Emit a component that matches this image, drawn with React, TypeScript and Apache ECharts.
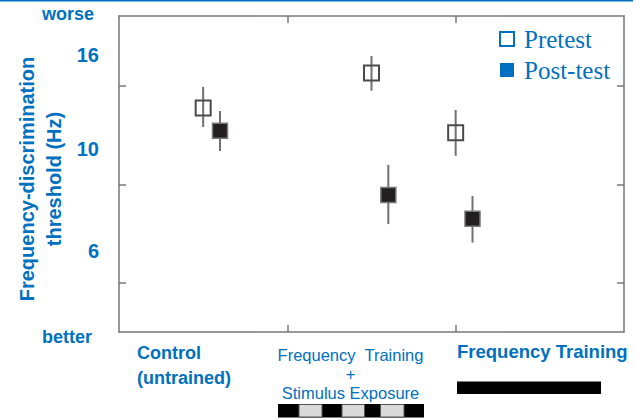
import React, { useEffect, useRef } from "react";
import * as echarts from "echarts";

// ---- data (thresholds in Hz) ----
const groupLabels = ["Control\n(untrained)", "Frequency  Training\n+\nStimulus Exposure", "Frequency Training"];
const preX = [0.5, 1.5, 2.0];
const postX = [0.6, 1.6, 2.1];
const preMean = [12.25, 14.6, 10.83];
const preLow = [11.14, 13.36, 9.65];
const preHigh = [13.61, 15.89, 12.13];
const postMean = [10.93, 7.93, 7.04];
const postLow = [9.88, 6.86, 6.25];
const postHigh = [12.07, 9.22, 7.89];
const yLabelValues = [6, 10, 16];
const yTickValues = [5.11, 8.34, 13.68];
const xTickValues = [1, 2];
const seriesNames = ["Pretest", "Post-test"];
const yTitle = "Frequency-discrimination\nthreshold (Hz)";
const yEnds = ["worse", "better"];

const BLUE = "#0070c0";
const AXIS = "#777777";
const SANS = "'Liberation Sans', Arial, sans-serif";
const SERIF = "'Liberation Serif', 'Times New Roman', serif";

export default function App() {
  const ref = useRef<HTMLDivElement>(null);
  useEffect(() => {
    if (!ref.current) return;
    const chart = echarts.init(ref.current, null, { renderer: "svg" });

    const whisker = (params: any, api: any) => {
      const x = api.value(0);
      const p1 = api.coord([x, api.value(1)]);
      const p2 = api.coord([x, api.value(2)]);
      return {
        type: "line",
        shape: { x1: p1[0], y1: p1[1], x2: p2[0], y2: p2[1] },
        style: { stroke: "#707070", lineWidth: 2 },
      };
    };

    const xAxisBase = {
      type: "value",
      min: 0,
      max: 3,
      axisLine: { show: true, onZero: false, lineStyle: { color: AXIS, width: 1.5 } },
      axisTick: { show: true, inside: true, length: 7, customValues: xTickValues, lineStyle: { color: AXIS, width: 1.5 } },
      axisLabel: { show: false },
      splitLine: { show: false },
    };
    const yAxisBase = {
      type: "log",
      logBase: 10,
      min: 4,
      max: 19.4,
      axisLine: { show: true, onZero: false, lineStyle: { color: AXIS, width: 1.5 } },
      axisTick: { show: true, inside: true, length: 7, customValues: yTickValues, lineStyle: { color: AXIS, width: 1.5 } },
      splitLine: { show: false },
    };

    chart.setOption({
      animation: false,
      grid: { left: 119, right: 11, top: 16, bottom: 88 },
      xAxis: [
        { ...xAxisBase, position: "bottom" },
        { ...xAxisBase, position: "top" },
      ],
      yAxis: [
        {
          ...yAxisBase,
          position: "left",
          axisLabel: {
            show: true,
            customValues: yLabelValues,
            margin: 20,
            color: BLUE,
            fontFamily: SANS,
            fontWeight: "bold",
            fontSize: 20,
            formatter: (v: number) => String(Math.round(v)),
          },
        },
        { ...yAxisBase, position: "right", axisLabel: { show: false } },
      ],
      legend: {
        orient: "vertical",
        left: 499,
        top: 26.5,
        padding: 0,
        itemWidth: 14,
        itemHeight: 14,
        itemGap: 6,
        textStyle: { fontFamily: SERIF, fontSize: 25, color: BLUE, padding: [0, 0, 0, 5] },
        data: [
          { name: seriesNames[0], icon: "rect", itemStyle: { color: "#ffffff", borderColor: BLUE, borderWidth: 2 } },
          { name: seriesNames[1], icon: "rect", itemStyle: { color: BLUE, borderWidth: 0 } },
        ],
      },
      series: [
        {
          type: "custom",
          name: "pre-err",
          renderItem: whisker,
          encode: { x: 0, y: [1, 2] },
          data: preX.map((x, i) => [x, preLow[i], preHigh[i]]),
          z: 1,
        },
        {
          type: "custom",
          name: "post-err",
          renderItem: whisker,
          encode: { x: 0, y: [1, 2] },
          data: postX.map((x, i) => [x, postLow[i], postHigh[i]]),
          z: 1,
        },
        {
          type: "scatter",
          name: seriesNames[0],
          symbol: "rect",
          symbolSize: 15,
          itemStyle: { color: "rgba(255,255,255,0)", borderColor: "#4a4a4a", borderWidth: 2, opacity: 1 },
          data: preX.map((x, i) => [x, preMean[i]]),
          z: 3,
        },
        {
          type: "scatter",
          name: seriesNames[1],
          symbol: "rect",
          symbolSize: 15,
          itemStyle: { color: "#231f20", borderColor: "#777777", borderWidth: 1.5, opacity: 1 },
          data: postX.map((x, i) => [x, postMean[i]]),
          z: 3,
        },
      ],
      graphic: [
        { type: "rect", shape: { x: 0, y: 0, width: 633, height: 1.5 }, style: { fill: BLUE } },
        {
          type: "text",
          x: 40,
          y: 179,
          rotation: Math.PI / 2,
          style: {
            text: yTitle,
            fill: BLUE,
            font: `bold 20px ${SANS}`,
            align: "center",
            verticalAlign: "middle",
            lineHeight: 27,
          },
        },
        {
          type: "text",
          x: 94,
          y: 14,
          style: { text: yEnds[0], fill: BLUE, font: `bold 18px ${SANS}`, align: "right", verticalAlign: "middle" },
        },
        {
          type: "text",
          x: 92,
          y: 337,
          style: { text: yEnds[1], fill: BLUE, font: `bold 18px ${SANS}`, align: "right", verticalAlign: "middle" },
        },
        {
          type: "text",
          x: 137,
          y: 365,
          style: { text: groupLabels[0], fill: BLUE, font: `bold 18px ${SANS}`, align: "left", verticalAlign: "middle", lineHeight: 25 },
        },
        {
          type: "text",
          x: 350.5,
          y: 374,
          style: { text: groupLabels[1], fill: BLUE, font: `16.5px ${SANS}`, align: "center", verticalAlign: "middle", lineHeight: 19 },
        },
        {
          type: "text",
          x: 457,
          y: 351,
          style: { text: groupLabels[2], fill: BLUE, font: `bold 18.5px ${SANS}`, align: "left", verticalAlign: "middle" },
        },
        { type: "rect", shape: { x: 457, y: 381.5, width: 144, height: 12.5 }, style: { fill: "#000000" } },
        { type: "rect", shape: { x: 278, y: 404, width: 146, height: 13.5 }, style: { fill: "#000000" } },
        { type: "rect", shape: { x: 299, y: 404.5, width: 23, height: 12.5 }, style: { fill: "#d9d9d9", stroke: "#555555", lineWidth: 1 } },
        { type: "rect", shape: { x: 342, y: 404.5, width: 22.5, height: 12.5 }, style: { fill: "#d9d9d9", stroke: "#555555", lineWidth: 1 } },
        { type: "rect", shape: { x: 380.5, y: 404.5, width: 23.5, height: 12.5 }, style: { fill: "#d9d9d9", stroke: "#555555", lineWidth: 1 } },
      ],
    });
    return () => chart.dispose();
  }, []);
  return <div ref={ref} style={{ position: "absolute", left: 0, top: 0, width: 635, height: 420 }} />;
}
